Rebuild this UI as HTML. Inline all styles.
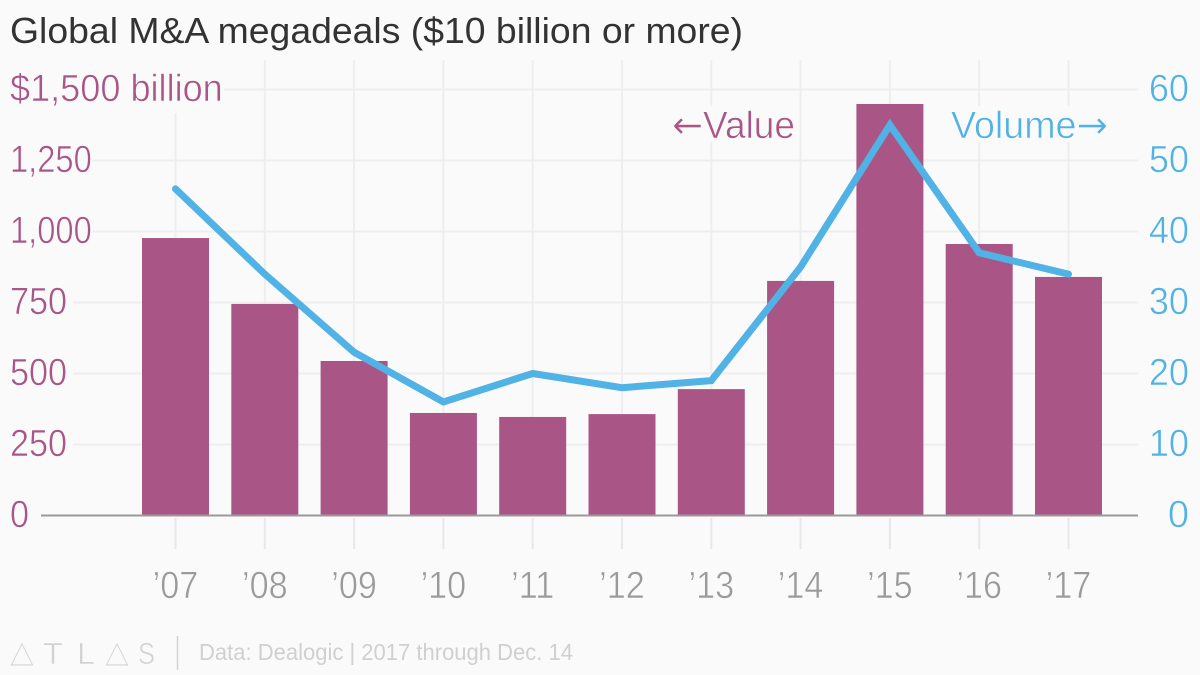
<!DOCTYPE html>
<html lang="en">
<head>
<meta charset="utf-8">
<title>Global M&amp;A megadeals</title>
<style>
html,body{margin:0;padding:0;background:#fafafa;}
svg{display:block;font-family:"Liberation Sans",sans-serif;}
.thin{stroke:#fafafa;stroke-width:0.6;}
.arrow{font-family:"DejaVu Sans",sans-serif;}
</style>
</head>
<body>
<svg id="chart" xmlns="http://www.w3.org/2000/svg" width="1200" height="675" viewBox="0 0 1200 675">
  <rect x="0" y="0" width="1200" height="675" fill="#fafafa"/>
  <g id="grid"></g>
  <g id="bars"></g>
  <line x1="41" x2="1138" y1="515.5" y2="515.5" stroke="#9a9a9a" stroke-width="2"/>
  <g id="marks"></g>
  <g id="halos"></g>
  <g id="labels"></g>
  <text x="10" y="43" font-size="36" fill="#333333" textLength="733" lengthAdjust="spacingAndGlyphs">Global M&amp;A megadeals ($10 billion or more)</text>
  <rect x="668" y="106" width="131" height="36" fill="#fafafa"/>
  <text class="thin" x="672" y="138" font-size="38" fill="#a95586" textLength="123" lengthAdjust="spacingAndGlyphs"><tspan class="arrow">←</tspan>Value</text>
  <rect x="947" y="106" width="165" height="36" fill="#fafafa"/>
  <text class="thin" x="951" y="138" font-size="38" fill="#51b2e5" textLength="157" lengthAdjust="spacingAndGlyphs">Volume<tspan class="arrow">→</tspan></text>
  <g fill="#d2d2d2" font-size="31">
    <text class="thin" x="10" y="662" textLength="24" lengthAdjust="spacingAndGlyphs">△</text>
    <text class="thin" x="43" y="664" textLength="20" lengthAdjust="spacingAndGlyphs">T</text>
    <text class="thin" x="77" y="664" textLength="18" lengthAdjust="spacingAndGlyphs">L</text>
    <text class="thin" x="105" y="662" textLength="24" lengthAdjust="spacingAndGlyphs">△</text>
    <text class="thin" x="138" y="664" textLength="17" lengthAdjust="spacingAndGlyphs">S</text>
  </g>
  <line x1="177.5" x2="177.5" y1="636" y2="670" stroke="#d2d2d2" stroke-width="1.5"/>
  <text x="199" y="660" font-size="23" fill="#d0d0d0" textLength="374" lengthAdjust="spacingAndGlyphs">Data: Dealogic | 2017 through Dec. 14</text>
</svg>
<script>
var categories = ["’07","’08","’09","’10","’11","’12","’13","’14","’15","’16","’17"];
var valueBillions = [977, 745, 544, 361, 347, 357, 445, 826, 1449, 956, 840];
var dealVolume = [46, 34, 23, 16, 20, 18, 19, 35, 55, 37, 34];
var leftTicks = [0, 250, 500, 750, 1000, 1250, 1500];
var leftTickLabels = ["0", "250", "500", "750", "1,000", "1,250", "$1,500 billion"];
var rightTicks = [0, 10, 20, 30, 40, 50, 60];

var NS = "http://www.w3.org/2000/svg";
var LEFT_MAX = 1500, RIGHT_MAX = 60, BASE_Y = 515.5, PLOT_H = 426;
var FIRST_X = 175.5, STEP_X = 89.3, BAR_W = 67;
function xPos(i) { return FIRST_X + i * STEP_X; }
function yLeft(v) { return BASE_Y - v / LEFT_MAX * PLOT_H; }
function yRight(v) { return BASE_Y - v / RIGHT_MAX * PLOT_H; }
function make(tag, attrs, parent, text) {
  var el = document.createElementNS(NS, tag);
  for (var k in attrs) el.setAttribute(k, attrs[k]);
  if (text !== undefined) el.textContent = text;
  parent.appendChild(el);
  return el;
}
function squeeze(el, ratio) {
  el.setAttribute("textLength", el.getComputedTextLength() * ratio);
  el.setAttribute("lengthAdjust", "spacingAndGlyphs");
}
var grid = document.getElementById("grid");
var bars = document.getElementById("bars");
var marks = document.getElementById("marks");
var halos = document.getElementById("halos");
var labels = document.getElementById("labels");

leftTicks.forEach(function (t) {
  if (t === 0) return;
  var l = make("line", {x1: 41, x2: 1138, y1: yLeft(t), y2: yLeft(t), stroke: "#eeeeee", "stroke-width": 2}, grid);
  
  
});
categories.forEach(function (c, i) {
  var v = make("line", {x1: xPos(i), x2: xPos(i), y1: 60, y2: 515, stroke: "#eeeeee", "stroke-width": 2}, grid);
  
  
  var tick = make("line", {x1: xPos(i), x2: xPos(i), y1: 518, y2: 549, stroke: "#e8e8e8", "stroke-width": 2}, grid);
  
  
});
valueBillions.forEach(function (val, i) {
  var b = make("rect", {x: xPos(i) - BAR_W / 2, y: yLeft(val), width: BAR_W, height: BASE_Y - yLeft(val), fill: "#a95586"}, bars);
  
  
});
var pts = dealVolume.map(function (val, i) { return xPos(i) + "," + yRight(val); }).join(" ");
var line = make("polyline", {points: pts, fill: "none", stroke: "#51b2e5", "stroke-width": 7, "stroke-linejoin": "miter", "stroke-linecap": "round"}, marks);



leftTicks.forEach(function (t, i) {
  var text = leftTickLabels[i];
  var lab = make("text", {x: 10, y: yLeft(t) + 11.5, "font-size": 38, fill: "#a95586", "class": "thin"}, labels, text);
  
  
  var ratio = text.length > 6 ? 0.95 : (text.length > 3 ? 0.86 : 0.9);
  squeeze(lab, ratio);
  var w = lab.getComputedTextLength() * ratio;
  var h = make("rect", {x: 0, y: yLeft(t) - 30, width: 10 + w + 12, height: 54, fill: "#fafafa"}, halos);
  
  
});
rightTicks.forEach(function (t) {
  var lab = make("text", {x: 1189, y: yRight(t) + 11.5, "font-size": 38, fill: "#51b2e5", "text-anchor": "end", "class": "thin"}, labels, String(t));
  
  
  if (t !== 0) squeeze(lab, 0.95);
});
categories.forEach(function (c, i) {
  var lab = make("text", {x: xPos(i), y: 598, "font-size": 38, fill: "#9a9a9a", "text-anchor": "middle", "class": "thin"}, labels, c);
  
  
  squeeze(lab, 0.9);
});
</script>
</body>
</html>
